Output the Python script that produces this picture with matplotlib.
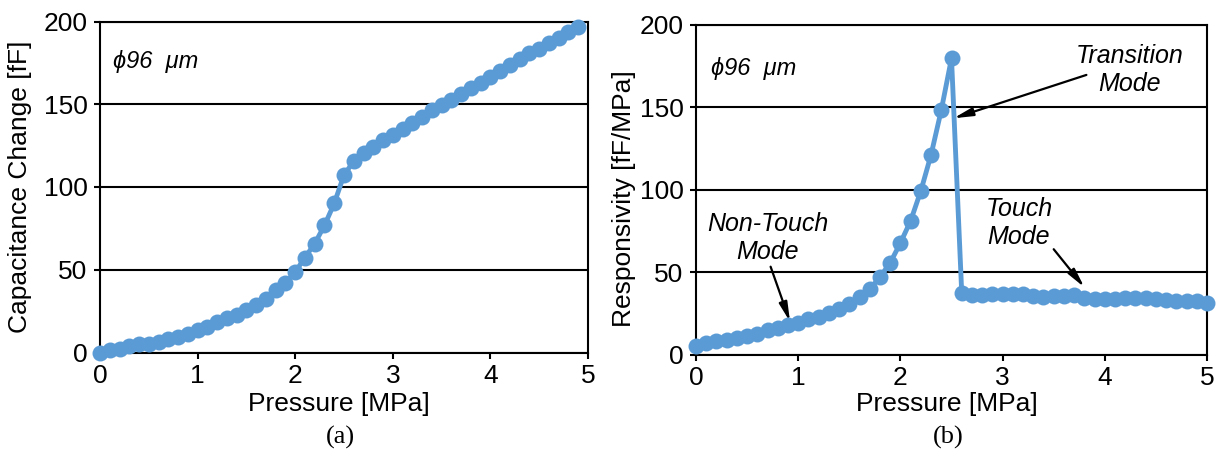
"""Capacitance change and responsivity versus applied pressure."""
import numpy as np
from matplotlib import pyplot as plt
from matplotlib import rc

rc('font', family=['Liberation Sans', 'DejaVu Sans'], size=19)

# pressure steps [MPa]
pressure_a = np.round(np.arange(0, 50) * 0.1, 1)
pressure_b = np.round(np.arange(0, 51) * 0.1, 1)

# capacitance change [fF]
capacitance = [
    0.0, 1.3, 2.4, 3.8, 5.0, 5.2, 6.1, 8.4, 9.5, 10.9,
    13.4, 15.6, 18.2, 20.8, 22.8, 25.4, 28.7, 32.4, 37.6, 42.0,
    48.6, 57.4, 65.8, 76.8, 90.1, 107.3, 115.5, 120.6, 124.2, 128.2,
    131.6, 134.8, 138.6, 142.0, 146.3, 149.3, 152.4, 156.0, 159.7, 162.6,
    166.4, 169.8, 173.7, 177.5, 180.9, 183.6, 186.8, 190.3, 193.5, 196.6,
]

# responsivity [fF/MPa]
responsivity = [
    5.1, 6.8, 7.9, 8.8, 9.8, 11.1, 12.6, 14.7, 16.1, 18.2,
    19.4, 21.3, 23.0, 25.3, 27.7, 30.9, 34.6, 39.5, 47.1, 55.6,
    67.7, 81.1, 99.3, 121.2, 148.3, 179.8, 37.5, 36.3, 36.3, 36.6,
    36.6, 36.6, 36.6, 35.3, 35.0, 35.3, 35.6, 36.0, 34.4, 33.5,
    33.5, 33.8, 34.1, 34.3, 34.3, 33.4, 32.8, 32.5, 32.5, 32.2,
    31.4,
]

blue = '#5B9BD5'
W, H = 1224, 453


def style_axes(ax):
    ax.set_xlim(0, 5)
    ax.set_ylim(0, 200)
    ax.set_xticks(range(6))
    ax.set_yticks(range(0, 201, 50))
    ax.yaxis.grid(True, color='black', lw=1.5)
    ax.set_axisbelow(True)
    for s in ax.spines.values():
        s.set_linewidth(1.5)
    ax.tick_params(direction='out', length=4, width=1.5, labelsize=19)
    ax.tick_params(axis='y', pad=5)
    ax.tick_params(axis='x', pad=4)


def draw_curve(ax, x, y):
    ax.plot(x, y, color=blue, lw=3.5, marker='o', ms=11.5,
            markeredgewidth=0, clip_on=False, zorder=5)


fig = plt.figure(figsize=(W / 100, H / 100), dpi=100)
ax1 = fig.add_axes([100 / W, 1 - 352.5 / H, 488 / W, 331 / H])
ax2 = fig.add_axes([696 / W, 1 - 354.5 / H, 511 / W, 329.5 / H])

# (a) capacitance change
style_axes(ax1)
draw_curve(ax1, pressure_a, capacitance)
ax1.set_xlabel('Pressure [MPa]', va='baseline')
ax1.xaxis.set_label_coords(0.49, -0.176)
ax1.set_ylabel('Capacitance Change [fF]', va='center')
ax1.yaxis.set_label_coords(-0.163, 0.5)
ax1.text(0.13, 175.7, '\u03d596  \u03bcm', style='italic', fontsize=17,
         ha='left', va='center')

# (b) responsivity
style_axes(ax2)
draw_curve(ax2, pressure_b, responsivity)
ax2.set_xlabel('Pressure [MPa]', va='baseline')
ax2.xaxis.set_label_coords(0.49, -0.171)
ax2.set_ylabel('Responsivity [fF/MPa]', va='center')
ax2.yaxis.set_label_coords(-0.141, 0.472)
ax2.text(0.15, 173.8, '\u03d596  \u03bcm', style='italic', fontsize=17,
         ha='left', va='center')

arrow = dict(arrowstyle='-|>,head_length=0.6,head_width=0.13',
             color='black', lw=1.6, shrinkA=0, shrinkB=0)
note = dict(style='italic', fontsize=18, ha='center', va='center',
            multialignment='center', zorder=6)
ax2.annotate('', xy=(2.52, 143.4), xytext=(3.82, 169.7), arrowprops=arrow)
ax2.text(4.24, 172.8, 'Transition\nMode', **note)
ax2.annotate('', xy=(0.92, 19.9), xytext=(0.73, 53.3), arrowprops=arrow)
ax2.text(0.70, 70.5, 'Non-Touch\nMode', **note)
ax2.annotate('', xy=(3.80, 40.8), xytext=(3.50, 63.9), arrowprops=arrow)
ax2.text(3.16, 79.7, 'Touch\nMode', **note)

fig.text(340 / W, 1 - 437 / H, '(a)', family='Liberation Serif',
         fontsize=19, ha='center', va='center')
fig.text(948 / W, 1 - 437 / H, '(b)', family='Liberation Serif',
         fontsize=19, ha='center', va='center')

plt.savefig('out.png', dpi=100)
